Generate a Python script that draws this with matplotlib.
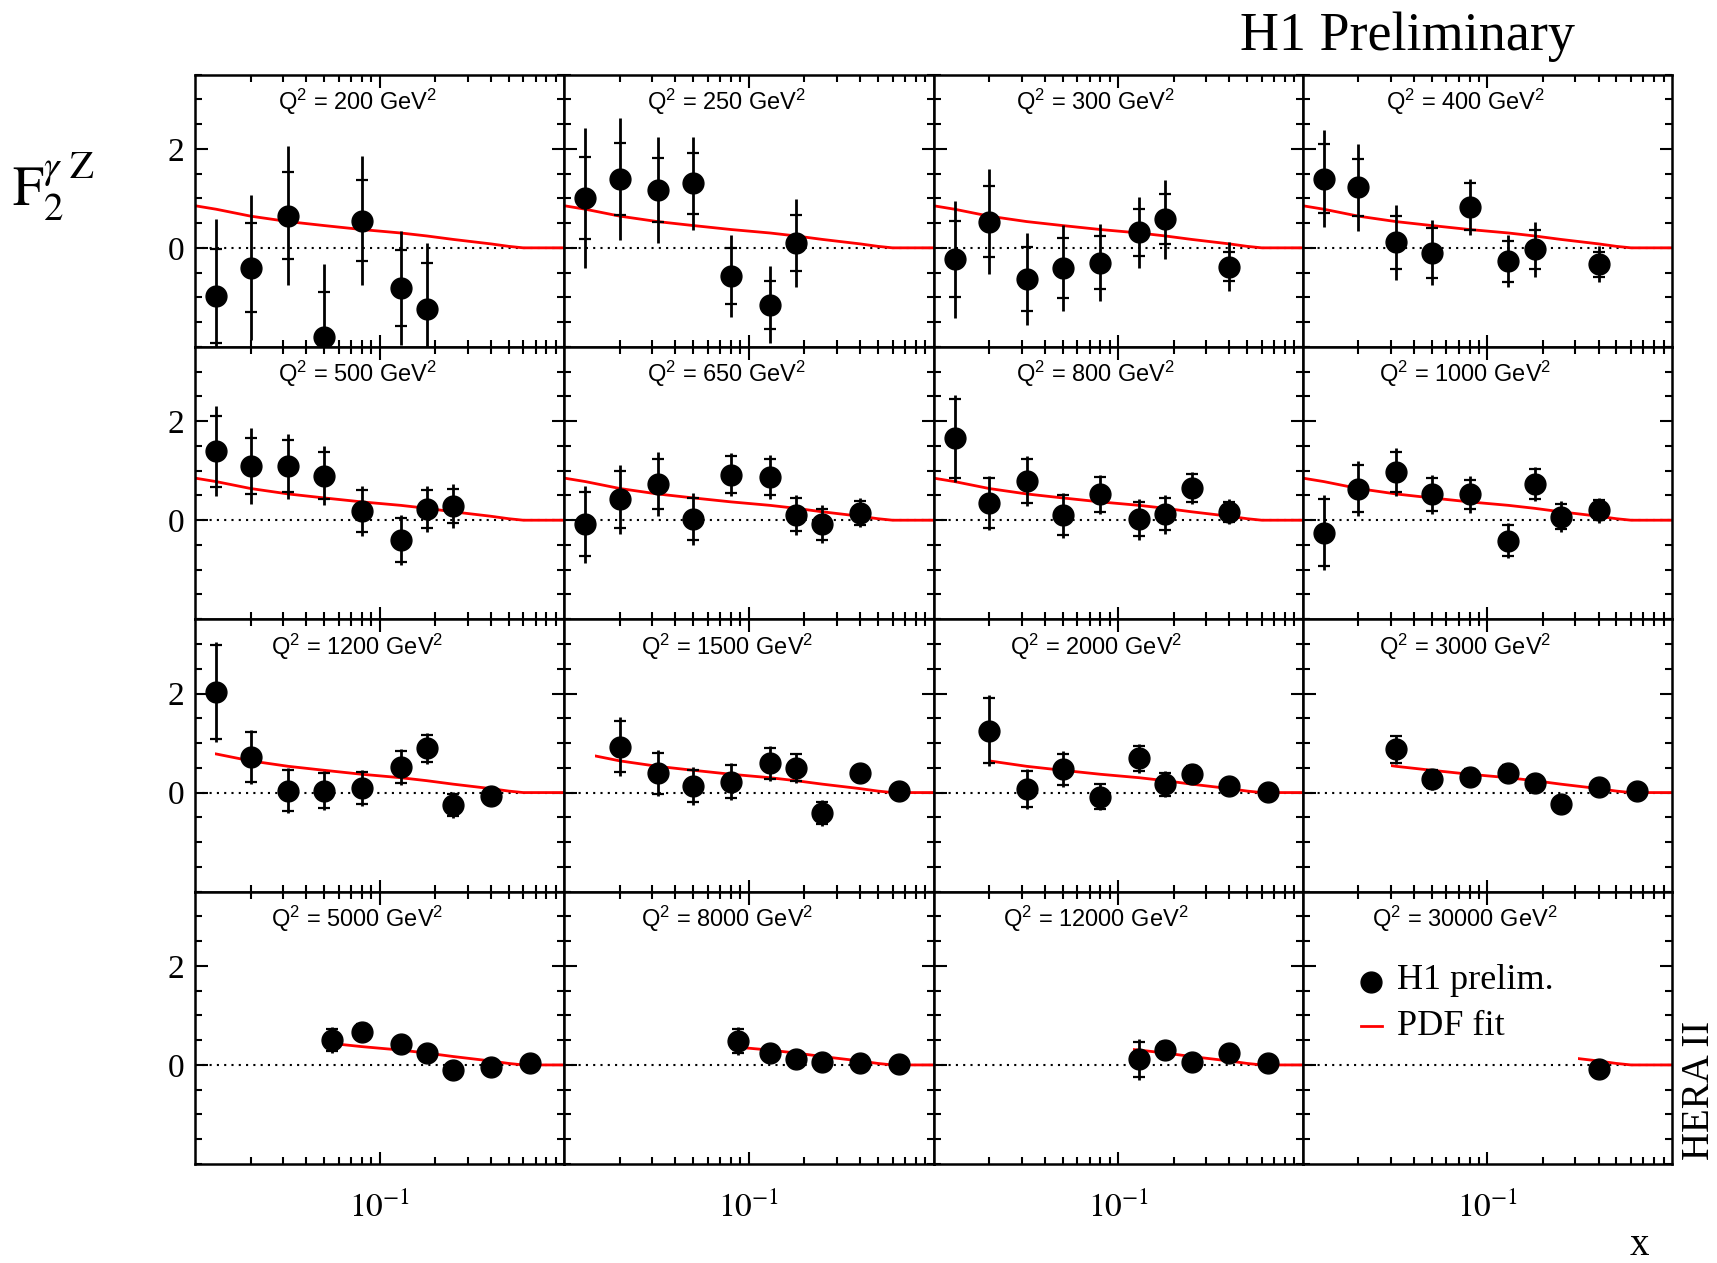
import numpy as np
import matplotlib
matplotlib.use('Agg')
import matplotlib.pyplot as plt
from matplotlib.patches import Rectangle
from matplotlib.lines import Line2D
from matplotlib.ticker import MultipleLocator, FixedLocator, NullFormatter

plt.rcParams['mathtext.fontset'] = 'custom'
plt.rcParams['mathtext.rm'] = 'Liberation Sans'
plt.rcParams['mathtext.it'] = 'Liberation Sans:italic'
plt.rcParams['font.family'] = ['Liberation Serif', 'DejaVu Serif']

# Q^2 bins (GeV^2)
q2_values = [200, 250, 300, 400, 500, 650, 800, 1000,
             1200, 1500, 2000, 3000, 5000, 8000, 12000, 30000]

# x values per panel
x_p1 = [0.013, 0.02, 0.032, 0.05, 0.08, 0.13, 0.18]
x_p3 = [0.013, 0.02, 0.032, 0.05, 0.08, 0.13, 0.18, 0.4]
x_p5 = [0.013, 0.02, 0.032, 0.05, 0.08, 0.13, 0.18, 0.25]
x_p6 = [0.013, 0.02, 0.032, 0.05, 0.08, 0.13, 0.18, 0.25, 0.4]
x_p10 = [0.02, 0.032, 0.05, 0.08, 0.13, 0.18, 0.25, 0.4, 0.65]
x_p12 = [0.032, 0.05, 0.08, 0.13, 0.18, 0.25, 0.4, 0.65]
x_p13 = [0.055, 0.08, 0.13, 0.18, 0.25, 0.4, 0.65]
x_p14 = [0.087, 0.13, 0.18, 0.25, 0.4, 0.65]
x_p15 = [0.13, 0.18, 0.25, 0.4, 0.65]
x_p16 = [0.4]

x_vals = [x_p1, x_p1, x_p3, x_p3, x_p5, x_p6, x_p6, x_p6,
          x_p6, x_p10, x_p10, x_p12, x_p13, x_p14, x_p15, x_p16]

# F2^gammaZ measured values
f2_vals = [
    [-0.97, -0.40, 0.65, -1.80, 0.55, -0.81, -1.23],
    [1.01, 1.39, 1.17, 1.30, -0.57, -1.15, 0.10],
    [-0.23, 0.53, -0.63, -0.41, -0.30, 0.31, 0.58, -0.38],
    [1.40, 1.22, 0.11, -0.10, 0.83, -0.27, -0.03, -0.33],
    [1.39, 1.09, 1.09, 0.90, 0.19, -0.40, 0.23, 0.29],
    [-0.08, 0.42, 0.73, 0.02, 0.92, 0.87, 0.11, -0.08, 0.15],
    [1.65, 0.35, 0.79, 0.10, 0.52, 0.02, 0.12, 0.65, 0.17],
    [-0.25, 0.64, 0.97, 0.52, 0.52, -0.41, 0.73, 0.07, 0.20],
    [2.04, 0.72, 0.04, 0.04, 0.09, 0.51, 0.89, -0.25, -0.07],
    [0.93, 0.39, 0.13, 0.22, 0.59, 0.50, -0.41, 0.39, 0.03],
    [1.25, 0.07, 0.47, -0.08, 0.69, 0.17, 0.37, 0.13, 0.02],
    [0.87, 0.27, 0.31, 0.39, 0.20, -0.23, 0.12, 0.04],
    [0.50, 0.67, 0.42, 0.25, -0.10, -0.04, 0.04],
    [0.49, 0.24, 0.12, 0.06, 0.04, 0.01],
    [0.11, 0.31, 0.06, 0.25, 0.03],
    [-0.08],
]

# statistical errors
stat_errs = [
    [0.95, 0.90, 0.88, 0.91, 0.82, 0.77, 0.93],
    [0.83, 0.73, 0.65, 0.61, 0.56, 0.49, 0.56],
    [0.77, 0.72, 0.65, 0.60, 0.53, 0.48, 0.50, 0.29],
    [0.70, 0.58, 0.54, 0.50, 0.47, 0.41, 0.40, 0.25],
    [0.71, 0.57, 0.52, 0.47, 0.42, 0.45, 0.38, 0.35],
    [0.64, 0.57, 0.50, 0.42, 0.38, 0.37, 0.33, 0.31, 0.24],
    [0.80, 0.50, 0.45, 0.40, 0.35, 0.34, 0.32, 0.28, 0.20],
    [0.68, 0.48, 0.41, 0.34, 0.30, 0.31, 0.30, 0.25, 0.20],
    [0.95, 0.50, 0.42, 0.36, 0.33, 0.32, 0.27, 0.22, 0.14],
    [0.52, 0.41, 0.33, 0.33, 0.31, 0.27, 0.22, 0.14, 0.10],
    [0.66, 0.36, 0.31, 0.25, 0.26, 0.23, 0.17, 0.13, 0.10],
    [0.27, 0.18, 0.16, 0.16, 0.14, 0.13, 0.10, 0.08],
    [0.22, 0.15, 0.13, 0.12, 0.11, 0.09, 0.07],
    [0.24, 0.15, 0.13, 0.12, 0.10, 0.08],
    [0.36, 0.16, 0.13, 0.12, 0.10],
    [0.10],
]

# total errors
tot_errs = [
    [1.55, 1.47, 1.40, 1.47, 1.31, 1.16, 1.32],
    [1.42, 1.24, 1.07, 0.93, 0.82, 0.78, 0.89],
    [1.18, 1.06, 0.93, 0.87, 0.78, 0.71, 0.80, 0.49],
    [0.97, 0.87, 0.75, 0.66, 0.57, 0.52, 0.56, 0.36],
    [0.91, 0.77, 0.66, 0.60, 0.51, 0.50, 0.47, 0.44],
    [0.78, 0.70, 0.64, 0.52, 0.44, 0.44, 0.40, 0.39, 0.29],
    [0.88, 0.55, 0.51, 0.45, 0.40, 0.41, 0.39, 0.33, 0.25],
    [0.75, 0.55, 0.48, 0.40, 0.37, 0.36, 0.35, 0.31, 0.25],
    [1.01, 0.55, 0.46, 0.39, 0.36, 0.36, 0.31, 0.27, 0.17],
    [0.59, 0.46, 0.38, 0.37, 0.35, 0.30, 0.26, 0.17, 0.12],
    [0.72, 0.40, 0.36, 0.28, 0.30, 0.26, 0.20, 0.15, 0.12],
    [0.30, 0.21, 0.18, 0.18, 0.16, 0.15, 0.12, 0.10],
    [0.26, 0.18, 0.15, 0.14, 0.13, 0.11, 0.09],
    [0.28, 0.18, 0.15, 0.14, 0.12, 0.10],
    [0.42, 0.19, 0.15, 0.14, 0.12],
    [0.12],
]

# PDF fit curve and lowest x where it is drawn
fit_x = [0.01, 0.013, 0.02, 0.032, 0.05, 0.08, 0.13, 0.18, 0.25, 0.4, 0.5, 0.6, 1.0]
fit_y = [0.85, 0.78, 0.64, 0.53, 0.45, 0.37, 0.30, 0.24, 0.17, 0.08, 0.03, 0.0, 0.0]
fit_xmin = [0.01, 0.01, 0.01, 0.01, 0.01, 0.01, 0.01, 0.01,
            0.0128, 0.0147, 0.020, 0.030, 0.053, 0.085, 0.12, 0.31]

fig = plt.figure(figsize=(17.17, 12.63), dpi=100)
gs = fig.add_gridspec(4, 4, left=0.1136, right=0.9738, top=0.941, bottom=0.0784,
                      wspace=0, hspace=0)

serif = 'Liberation Serif'

for i in range(16):
    row, col = i // 4, i % 4
    ax = fig.add_subplot(gs[row, col])
    ax.set_xscale('log')
    ax.set_xlim(0.01, 1.0)
    ax.set_ylim(-2, 3.5)

    ax.axhline(0, color='black', ls=(0, (1, 2.5)), lw=1.5, zorder=1)

    fit_line, = ax.plot(fit_x, fit_y, color='red', lw=2, zorder=2)
    clip = Rectangle((fit_xmin[i], -2), 1.0 - fit_xmin[i], 5.5, transform=ax.transData)
    fit_line.set_clip_path(clip)

    ax.errorbar(x_vals[i], f2_vals[i], yerr=tot_errs[i], fmt='none', ecolor='black',
                elinewidth=2, capsize=0, zorder=3)
    ax.errorbar(x_vals[i], f2_vals[i], yerr=stat_errs[i], fmt='none', ecolor='black',
                elinewidth=0, capsize=4, capthick=1.6, zorder=3)
    ax.plot(x_vals[i], f2_vals[i], 'o', color='black', ms=15, zorder=4)

    ax.text(0.44, 0.9, 'Q$^2$ = %d GeV$^2$' % q2_values[i], transform=ax.transAxes,
            ha='center', va='center', fontsize=17, family='Liberation Sans',
            math_fontfamily='custom')

    # ROOT-like ticks
    ax.xaxis.set_major_locator(FixedLocator([0.1]))
    ax.xaxis.set_minor_locator(FixedLocator([0.02, 0.03, 0.04, 0.05, 0.06, 0.07, 0.08, 0.09,
                                             0.2, 0.3, 0.4, 0.5, 0.6, 0.7, 0.8, 0.9]))
    ax.xaxis.set_minor_formatter(NullFormatter())
    ax.yaxis.set_major_locator(FixedLocator([0, 2]))
    ax.yaxis.set_minor_locator(MultipleLocator(0.5))
    ax.tick_params(which='both', direction='in', top=True, right=True, width=1.5)
    ax.tick_params(which='major', length=9)
    ax.tick_params(which='minor', length=5)

    if row == 3:
        ax.set_xticklabels(['$10^{-1}$'])
        for lab in ax.get_xticklabels():
            lab.set_fontsize(24)
            lab.set_math_fontfamily('stix')
        ax.tick_params(axis='x', pad=20)
    else:
        ax.set_xticklabels([])
    if col == 0:
        ax.set_yticklabels(['0', '2'], fontsize=24, family=serif)
        ax.tick_params(axis='y', pad=8)
    else:
        ax.set_yticklabels([])

    for sp in ax.spines.values():
        sp.set_linewidth(1.8)

    if i == 15:
        ax.plot([0.184], [0.669], 'o', color='black', ms=15, transform=ax.transAxes,
                clip_on=False)
        ax.text(0.255, 0.672, 'H1 prelim.', transform=ax.transAxes, fontsize=26,
                family=serif, va='center', ha='left')
        ax.add_line(Line2D([0.157, 0.214], [0.507, 0.507], color='red', lw=2,
                           transform=ax.transAxes))
        ax.text(0.255, 0.505, 'PDF fit', transform=ax.transAxes, fontsize=26,
                family=serif, va='center', ha='left')

fig.text(0.722, 0.971, 'H1 Preliminary', fontsize=39, family=serif,
         ha='left', va='center')
fig.text(0.007, 0.852, r'$\mathrm{F}_2^{\gamma\ \mathrm{Z}}$', fontsize=40,
         math_fontfamily='stix', ha='left', va='center')
fig.text(0.955, 0.006, 'x', fontsize=28, family=serif, ha='center', va='baseline')
fig.text(0.99, 0.137, 'HERA II', fontsize=28, family=serif, rotation=90,
         ha='center', va='center')

fig.savefig('out.png', dpi=100)
